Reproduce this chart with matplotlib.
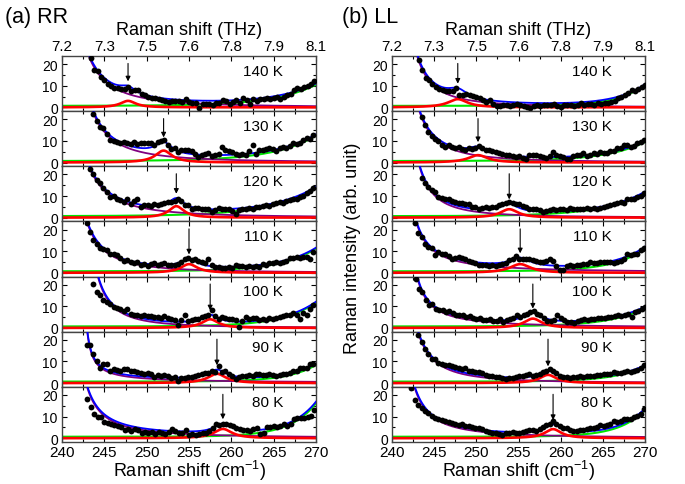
import numpy as np
import matplotlib
matplotlib.use('Agg')
import matplotlib.pyplot as plt
from matplotlib.ticker import MultipleLocator, FuncFormatter

plt.rcParams['font.family'] = ['Liberation Sans', 'DejaVu Sans']
plt.rcParams['mathtext.default'] = 'regular'

# ---------------- data ----------------
temps = [140, 130, 120, 110, 100, 90, 80]
step = 0.4  # cm^-1 spacing of the measured points

# (a) RR : first Raman shift of each spectrum (cm^-1)
rr_start = [243.4, 243.7, 243.3, 242.9, 243.7, 242.9, 243.0]
rr_140 = [22.8, 17.4, 17.0, 14.2, 12.5, 11.0, 9.8, 9.1, 8.8, 8.5, 8.6, 9.3, 7.7, 8.2, 7.8, 6.0, 5.5, 4.6, 4.1, 4.4,
          3.7, 3.5, 3.0, 2.6, 3.0, 2.8, 2.9, 2.5, 3.7, 2.3, 2.2, 1.8, -0.2, 1.6, 1.4, 1.6, 1.0, 1.8, 2.2, 3.4,
          3.0, 1.4, 2.6, 3.4, 1.8, 4.2, 3.5, 1.4, 3.7, 3.0, 3.7, 3.7, 4.2, 3.9, 4.5, 5.0, 3.7, 4.8, 5.5, 6.0,
          8.0, 8.8, 8.5, 9.5, 10.0, 11.0, 12.0]
rr_130 = [22.5, 19.0, 16.5, 15.9, 13.0, 10.2, 10.0, 9.6, 9.0, 9.4, 9.2, 8.7, 9.5, 8.5, 9.2, 8.8, 9.0, 9.0, 8.2, 9.5,
          9.9, 10.2, 8.0, 6.2, 6.5, 5.0, 6.0, 5.9, 5.6, 5.2, 3.8, 2.7, 3.5, 4.0, 4.2, 3.0, 3.5, 4.0, 7.0, 6.0,
          5.5, 4.8, 3.8, 3.5, 3.8, 3.5, 5.5, 7.9, 4.0, 5.8, 6.0, 6.2, 6.6, 6.2, 5.5, 6.8, 7.2, 6.8, 7.8, 9.0,
          8.6, 9.2, 10.5, 11.4, 11.0, 12.5]
rr_120 = [22.7, 20.4, 17.3, 15.8, 13.5, 11.9, 9.6, 10.0, 8.8, 8.1, 7.3, 8.5, 6.5, 7.6, 8.4, 5.0, 6.0, 6.0, 5.5, 6.3,
          6.0, 6.5, 6.6, 7.3, 7.2, 7.6, 8.5, 7.5, 6.0, 5.8, 4.2, 4.5, 4.3, 3.9, 4.2, 4.0, 2.7, 3.6, 4.3, 4.2,
          3.8, 4.0, 3.2, 1.9, 3.6, 3.8, 3.9, 4.4, 4.2, 4.8, 5.0, 5.2, 6.0, 5.6, 6.4, 6.6, 7.3, 7.0, 7.8, 8.2,
          8.5, 8.4, 9.6, 10.2, 11.6, 12.3, 13.5]
rr_110 = [22.8, 18.9, 15.1, 13.5, 11.5, 10.8, 10.5, 8.6, 8.8, 8.0, 6.8, 5.5, 5.8, 5.0, 4.5, 4.8, 3.8, 4.0, 3.2, 4.2,
          4.5, 3.6, 3.9, 4.4, 3.5, 3.8, 3.6, 4.2, 5.0, 6.2, 7.0, 6.0, 6.5, 5.5, 5.2, 4.3, 6.2, 3.5, 2.5, 2.8,
          2.2, 2.0, 2.6, 2.3, 3.4, 3.0, 3.2, 2.8, 3.0, 2.6, 3.1, 2.9, 4.0, 3.8, 4.5, 4.3, 4.8, 4.5, 4.9, 5.5,
          6.8, 7.0, 7.3, 6.9, 7.5, 7.2, 6.3, 9.5]
rr_100 = [20.5, 16.6, 15.1, 12.8, 12.0, 11.2, 9.7, 9.0, 8.9, 7.6, 8.9, 6.5, 6.2, 5.8, 5.5, 6.0, 5.3, 5.6, 5.0, 5.0,
          4.6, 5.5, 4.8, 4.3, 3.5, 1.2, 3.8, 5.8, 3.3, 3.6, 4.0, 4.2, 5.0, 5.3, 6.2, 8.2, 5.5, 4.3, 5.0, 4.8,
          4.1, 4.3, 3.5, 0.5, 3.0, 5.0, 4.0, 4.6, 4.4, 3.8, 4.2, 3.5, 4.5, 4.3, 4.8, 5.0, 5.3, 5.8, 6.2, 6.8,
          6.0, 4.3, 6.8, 5.8, 8.9, 10.5]
rr_90 = [17.7, 17.4, 13.5, 10.0, 6.9, 8.9, 8.6, 5.4, 6.3, 6.0, 5.6, 6.3, 6.6, 5.8, 5.4, 4.9, 4.8, 4.3, 4.5, 4.0,
         2.8, 3.6, 3.2, 3.8, 3.5, 2.3, 2.6, 0.8, 2.3, 2.5, 2.8, 3.0, 3.5, 3.8, 4.2, 4.8, 4.5, 5.4, 5.0, 7.8,
         5.1, 5.4, 4.2, 3.5, 2.0, 3.0, 3.5, 3.2, 3.8, 3.5, 4.0, 4.3, 3.6, 3.9, 4.3, 3.8, 3.2, 3.8, 4.3, 4.0,
         4.6, 5.4, 5.8, 6.9, 6.8, 7.2, 8.9, 8.6]
rr_80 = [18.1, 14.4, 11.2, 9.6, 9.9, 7.5, 6.9, 6.4, 6.0, 5.6, 5.2, 4.0, 4.4, 3.5, 4.3, 3.8, 2.4, 2.9, 2.4, 2.9,
         1.8, 2.9, 2.5, 2.0, 3.0, 4.3, 3.2, 2.2, 2.5, 3.7, 1.6, 2.0, 1.6, 1.9, 2.3, 2.6, 3.5, 4.5, 6.7, 6.1,
         6.4, 6.7, 6.1, 5.6, 4.8, 4.2, 3.6, 4.0, 3.5, 4.2, 4.5, 1.9, 2.2, 5.1, 5.0, 5.6, 5.2, 5.5, 6.4, 5.8,
         6.5, 8.8, 9.3, 9.3, 9.5, 10.0, 10.4, 13.0]

# (b) LL
ll_start = [243.2, 243.5, 243.5, 242.7, 242.8, 243.1, 242.3]
ll_140 = [21.8, 17.2, 13.5, 12.6, 10.8, 9.2, 8.3, 8.0, 7.7, 7.6, 7.5, 8.8, 5.7, 5.8, 6.0, 5.5, 5.2, 4.9, 4.2, 3.5,
          2.6, 3.4, 1.5, 0.6, 0.8, 1.2, 0.9, 0.6, 1.0, 1.4, 1.1, 0.5, 0.3, -0.5, 0.5, 1.0, 0.6, 0.9, 1.2, 1.1,
          1.4, 0.8, 0.3, 0.9, 1.2, 1.1, 0.5, 1.3, 1.8, 1.2, 1.5, 1.5, 1.2, 1.8, 1.6, 1.8, 2.2, 2.5, 2.8, 4.2,
          4.6, 5.7, 6.5, 8.0, 7.5, 8.6, 9.5, 10.3]
ll_130 = [21.1, 17.2, 14.2, 12.3, 10.8, 9.8, 8.0, 7.2, 8.3, 7.2, 6.5, 7.0, 6.3, 5.7, 6.5, 6.2, 6.5, 7.7, 6.8, 6.0,
          5.8, 5.2, 4.8, 4.3, 4.0, 3.7, 3.3, 3.0, 2.6, 2.9, 2.2, 1.5, 3.7, 3.7, 3.4, 3.2, 2.6, 2.2, 3.0, 4.9,
          3.4, 3.0, 2.5, 1.8, 1.5, 2.8, 3.4, 3.6, 4.2, 3.2, 3.6, 4.2, 3.8, 4.9, 4.5, 4.4, 5.2, 5.5, 6.5, 6.8,
          8.0, 8.0, 7.2, 7.5, 9.2, 9.4, 10.3]
ll_120 = [18.4, 15.8, 14.0, 12.7, 11.9, 9.6, 9.0, 8.5, 8.4, 7.8, 7.3, 7.0, 6.6, 6.4, 6.1, 5.0, 4.8, 4.2, 4.6, 4.8,
          4.5, 4.8, 5.0, 5.8, 6.5, 6.8, 7.3, 6.8, 6.4, 6.1, 5.2, 4.8, 4.2, 3.8, 3.9, 3.5, 2.7, 3.3, 3.6, 3.9,
          3.6, 3.8, 4.0, 3.7, 4.5, 4.0, 4.2, 4.1, 3.9, 4.3, 4.0, 4.3, 3.9, 4.6, 5.0, 5.4, 5.8, 6.2, 6.8, 7.3,
          6.6, 8.8, 8.4, 8.5, 9.6, 10.2, 11.6]
ll_110 = [22.8, 18.2, 16.6, 13.5, 12.0, 11.5, 8.2, 9.4, 8.9, 8.5, 7.8, 6.6, 6.9, 7.4, 6.8, 6.3, 5.6, 5.0, 4.3, 3.5,
          3.8, 3.6, 3.2, 3.4, 3.3, 3.5, 3.9, 4.3, 5.8, 6.2, 7.8, 6.3, 6.4, 6.3, 6.3, 5.8, 5.3, 5.0, 4.8, 5.5,
          6.3, 5.4, 3.0, 1.2, 1.2, 3.2, 3.5, 3.3, 3.6, 3.8, 4.0, 4.2, 4.8, 4.5, 4.6, 5.0, 4.8, 5.0, 4.9, 4.3,
          5.2, 5.6, 6.3, 8.5, 8.2, 8.6, 8.9, 10.5, 11.5]
ll_100 = [22.8, 18.2, 16.6, 12.8, 10.8, 11.0, 8.9, 8.5, 8.2, 7.4, 7.6, 6.8, 6.2, 5.8, 6.0, 5.2, 5.5, 4.6, 4.3, 4.5,
          3.8, 3.5, 3.9, 3.4, 3.1, 4.0, 2.8, 3.5, 4.0, 4.6, 5.8, 5.0, 6.0, 6.6, 7.4, 7.7, 6.5, 5.8, 4.8, 3.1,
          3.0, 3.5, 5.8, 4.5, 3.5, 2.8, 2.9, 2.5, 3.2, 3.6, 4.3, 3.8, 4.0, 4.3, 4.5, 4.6, 4.4, 5.1, 5.0, 5.4,
          5.8, 5.7, 6.0, 6.6, 5.1, 7.2, 7.7, 8.9, 9.5]
ll_90 = [22.0, 19.2, 15.8, 13.5, 11.2, 11.0, 9.5, 8.9, 8.4, 8.2, 8.0, 7.4, 7.0, 6.6, 6.8, 5.8, 5.5, 5.2, 5.1, 4.5,
         3.8, 3.5, 3.2, 2.8, 2.6, 2.4, 2.0, 2.3, 2.5, 2.8, 3.2, 3.5, 3.8, 4.2, 3.2, 3.6, 4.3, 5.0, 5.8, 6.3,
         5.5, 4.5, 3.5, 3.0, 2.6, 2.3, 2.6, 2.8, 3.2, 2.9, 3.1, 3.4, 3.3, 3.6, 3.8, 4.1, 4.3, 4.2, 5.1, 4.8,
         4.6, 5.2, 5.5, 5.1, 5.8, 6.2, 6.9, 8.5]
ll_80 = [23.2, 17.5, 15.5, 13.8, 12.5, 11.8, 10.3, 9.4, 8.8, 8.5, 8.0, 7.5, 7.2, 6.6, 6.0, 6.8, 5.8, 5.5, 5.2, 4.8,
         4.5, 4.2, 3.5, 2.8, 2.2, 2.5, 2.0, 1.7, 2.2, 2.5, 2.9, 2.4, 2.6, 2.9, 3.2, 3.6, 3.8, 3.5, 4.4, 5.2,
         6.3, 6.6, 7.8, 6.8, 5.5, 4.6, 4.8, 4.0, 3.5, 3.2, 3.6, 3.9, 4.2, 4.5, 4.8, 5.0, 6.0, 5.8, 6.2, 6.8,
         7.8, 7.6, 8.0, 8.8, 8.9, 9.1, 9.8, 10.5, 11.4, 13.7]

# fit parameters (phonon Lorentzian: centre, height, FWHM)
rr_peak_x = [247.8, 252.0, 253.5, 255.0, 257.5, 258.3, 259.0]
rr_peak_h = [3.0, 5.5, 5.3, 4.0, 4.0, 4.3, 4.3]
rr_peak_w = [2.2, 2.4, 2.2, 2.4, 2.4, 2.6, 2.6]
# low-energy background A / (x - xc)^n
rr_bg1_a = [560, 530, 567, 384, 264, 16.2, 108.7]
rr_bg1_xc = [238.3, 238.9, 238.3, 238.9, 240.9, 242.3, 240.2]
rr_bg1_n = [2, 2, 2, 2, 2, 1, 1.5]
# high-energy background g0 + B exp((x-270)/t)
rr_bg2_b = [9.8, 11.8, 13.0, 10.5, 11.1, 7.7, 15.5]
rr_bg2_t = [5.0, 4.95, 5.35, 4.25, 3.95, 3.3, 3.1]

ll_peak_x = [247.8, 250.2, 253.9, 255.2, 256.7, 258.5, 259.1]
ll_peak_h = [3.8, 3.4, 3.9, 4.0, 4.3, 3.8, 4.2]
ll_peak_w = [2.8, 2.8, 2.6, 3.0, 2.6, 2.4, 2.4]
ll_bg1_a = [322, 388, 283, 69.6, 57.1, 353, 136.6]
ll_bg1_xc = [239.3, 239.2, 239.8, 240.57, 241.0, 239.2, 239.67]
ll_bg1_n = [2, 2, 2, 1.3, 1.3, 2, 1.6]
ll_bg2_b = [9.7, 8.8, 11.0, 10.5, 8.4, 7.2, 12.5]
ll_bg2_t = [3.4, 4.5, 4.9, 3.7, 4.2, 3.6, 3.0]
bg2_g0 = 0.7

x_ticks = [240, 245, 250, 255, 260, 265, 270]
cm_per_thz = 33.356

rr_data = [rr_140, rr_130, rr_120, rr_110, rr_100, rr_90, rr_80]
ll_data = [ll_140, ll_130, ll_120, ll_110, ll_100, ll_90, ll_80]

# ---------------- plotting ----------------
W, H = 685, 485
fig = plt.figure(figsize=(W / 100, H / 100), dpi=100)

top_px, bot_px = 57, 443
ph = (bot_px - top_px) / 7
cols = [(62, 254), (392, 253)]

BLUE, RED, GREEN, PURPLE = '#0000ff', '#ff0000', '#00e600', '#800080'
xs = np.linspace(240, 270, 901)


def lorentz(x, x0, h, w):
    return h / (1 + ((x - x0) / (w / 2)) ** 2)


def bg1(x, a, xc, n):
    with np.errstate(all='ignore'):
        return np.where(x > xc + 0.02, a / np.abs(x - xc) ** n, np.nan)


def bg2(x, b, t):
    return bg2_g0 + b * np.exp((x - 270) / t)


sets = [
    (rr_data, rr_start, rr_peak_x, rr_peak_h, rr_peak_w, rr_bg1_a, rr_bg1_xc, rr_bg1_n, rr_bg2_b, rr_bg2_t),
    (ll_data, ll_start, ll_peak_x, ll_peak_h, ll_peak_w, ll_bg1_a, ll_bg1_xc, ll_bg1_n, ll_bg2_b, ll_bg2_t),
]

for c, (x0px, wpx) in enumerate(cols):
    data, start, px, phh, pw, a1, xc1, n1, b2, t2 = sets[c]
    for i, T in enumerate(temps):
        tpx = top_px + i * ph
        ax = fig.add_axes([x0px / W, 1 - (tpx + ph) / H, wpx / W, ph / H])
        y = np.array(data[i])
        x = start[i] + step * np.arange(len(y))
        p = bg1(xs, a1[i], xc1[i], n1[i])
        g = bg2(xs, b2[i], t2[i])
        r = lorentz(xs, px[i], phh[i], pw[i])
        tot = p + g + r
        ax.plot(xs, g, color=GREEN, lw=1.5, zorder=2)
        ax.plot(xs, p, color=PURPLE, lw=1.3, zorder=2.2)
        ax.plot(xs, r, color=RED, lw=1.9, zorder=2.4)
        ax.plot(xs, tot, color=BLUE, lw=1.3, zorder=2.6)
        ax.plot(x, y, 'o', color='black', ms=4.2, mec='black', mew=0, zorder=3)
        tot_peak = (bg1(np.array([px[i]]), a1[i], xc1[i], n1[i]) + bg2(px[i], b2[i], t2[i]) + phh[i])[0]
        ax.annotate('', xy=(px[i], tot_peak + 2.0), xytext=(px[i], 20.3),
                    arrowprops=dict(arrowstyle='-|>', color='black', lw=0.8,
                                    mutation_scale=7, shrinkA=0, shrinkB=0), zorder=4)
        ax.text(0.87, 0.73, f'{T} K', transform=ax.transAxes, ha='right', va='center', fontsize=11)

        ax.set_xlim(240, 270)
        ax.set_ylim(-1.75, 23.75)
        ax.set_xticks(x_ticks)
        ax.xaxis.set_minor_locator(MultipleLocator(2.5))
        ax.set_yticks([0, 10, 20])
        ax.yaxis.set_minor_locator(MultipleLocator(5))
        ax.tick_params(which='both', direction='in', top=True, right=True, width=0.8)
        ax.tick_params(axis='x', labelsize=11)
        ax.tick_params(axis='y', labelsize=10, pad=3)
        ax.tick_params(which='major', length=3.5)
        ax.tick_params(which='minor', length=2)
        for s in ax.spines.values():
            s.set_color('#444444')
            s.set_linewidth(1.0)
        if i == 0:
            ax.tick_params(axis='x', labeltop=True, labelbottom=False, pad=2.5)
            ax.xaxis.set_major_formatter(FuncFormatter(lambda v, pos: f'{v / cm_per_thz:.1f}'))
            ax.xaxis.set_label_position('top')
            ax.set_xlabel('Raman shift (THz)', fontsize=13, labelpad=3)
        elif i == 6:
            ax.tick_params(axis='x', pad=2.5)
            ax.set_xlabel('Raman shift (cm$^{-1}$)', fontsize=13, labelpad=-1)
        else:
            ax.tick_params(axis='x', labelbottom=False)

fig.text(5 / W, 1 - 17 / H, '(a) RR', fontsize=15.5, ha='left', va='center')
fig.text(342 / W, 1 - 17 / H, '(b) LL', fontsize=15.5, ha='left', va='center')
fig.text(353 / W, 1 - 248 / H, 'Raman intensity (arb. unit)', fontsize=13, rotation=90,
         ha='center', va='center')

fig.savefig('out.png', dpi=100, facecolor='white')
